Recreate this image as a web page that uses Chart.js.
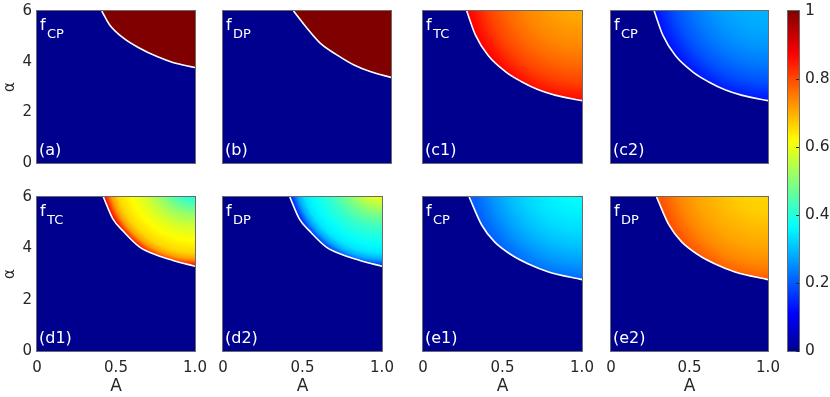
<!DOCTYPE html>
<html>
<head>
<meta charset="utf-8">
<title>f maps</title>
<script src="https://cdn.jsdelivr.net/npm/chart.js@4.4.0/dist/chart.umd.min.js"></script>
<style>
  body { margin: 0; background: #fff; }
  #wrap { position: relative; width: 830px; height: 397px; overflow: hidden; }
  #wrap canvas { position: absolute; }
</style>
</head>
<body>
<div id="wrap"></div>
<script>
// Tick labels
const xTicks = [0, 0.5, 1];
const xTickLabels = ["0", "0.5", "1.0"];
const yTicks = [0, 2, 4, 6];
const yTickLabels = ["0", "2", "4", "6"];
const cbTicks = [0, 0.2, 0.4, 0.6, 0.8, 1];
const cbTickLabels = ["0", "0.2", "0.4", "0.6", "0.8", "1"];

// Boundary curves (A, alpha)
const curveA_a = [0.41, 0.46, 0.55, 0.65, 0.76, 0.86, 1.0];
const curveAlpha_a = [6.0, 5.45, 4.92, 4.53, 4.2, 3.97, 3.77];
const curveA_b = [0.42, 0.5, 0.58, 0.68, 0.78, 0.88, 1.0];
const curveAlpha_b = [6.0, 5.32, 4.72, 4.26, 3.87, 3.6, 3.38];
const curveA_c = [0.275, 0.33, 0.41, 0.52, 0.62, 0.73, 0.83, 1.0];
const curveAlpha_c = [6.0, 5.05, 4.24, 3.6, 3.21, 2.88, 2.68, 2.46];
const curveA_d = [0.42, 0.48, 0.55, 0.65, 0.76, 0.86, 1.0];
const curveAlpha_d = [6.0, 5.15, 4.64, 4.05, 3.73, 3.53, 3.3];
const curveA_e = [0.29, 0.37, 0.45, 0.56, 0.66, 0.79, 1.0];
const curveAlpha_e = [6.0, 4.9, 4.25, 3.73, 3.4, 3.08, 2.78];

// Field values (0..1), from the top-right corner toward the boundary
const field_a = [1.0];
const field_b = [1.0];
const field_c1 = [0.7, 0.72, 0.74, 0.77, 0.81, 0.87];
const field_c2 = [0.29, 0.28, 0.26, 0.23, 0.19, 0.13];
const field_d1 = [0.4, 0.44, 0.48, 0.52, 0.55, 0.58, 0.6, 0.62, 0.64, 0.66, 0.72, 0.86];
const field_d2 = [0.6, 0.56, 0.52, 0.48, 0.45, 0.42, 0.4, 0.38, 0.36, 0.34, 0.28, 0.16];
const field_e1 = [0.37, 0.35, 0.33, 0.3, 0.26, 0.21];
const field_e2 = [0.66, 0.67, 0.69, 0.71, 0.74, 0.79];

const TEXT = "#262626";
const FONT = "'DejaVu Sans', sans-serif";

// MATLAB-like jet colormap
function jet(v) {
  const t = v * 0.984 + 0.0156;
  const c = (k) => Math.round(255 * Math.max(0, Math.min(1, 1.5 - Math.abs(4 * t - k))));
  return `rgb(${c(3)},${c(2)},${c(1)})`;
}

const panels = [
  { x: 37, y: 11, w: 158, h: 152, A: curveA_a, alpha: curveAlpha_a, field: field_a, sub: "CP", tag: "(a)", left: true, bottom: false },
  { x: 223, y: 11, w: 168, h: 152, A: curveA_b, alpha: curveAlpha_b, field: field_b, sub: "DP", tag: "(b)", left: false, bottom: false },
  { x: 423, y: 11, w: 159, h: 152, A: curveA_c, alpha: curveAlpha_c, field: field_c1, sub: "TC", tag: "(c1)", left: false, bottom: false },
  { x: 611, y: 11, w: 157, h: 152, A: curveA_c, alpha: curveAlpha_c, field: field_c2, sub: "CP", tag: "(c2)", left: false, bottom: false },
  { x: 37, y: 197, w: 158, h: 154, A: curveA_d, alpha: curveAlpha_d, field: field_d1, sub: "TC", tag: "(d1)", left: true, bottom: true },
  { x: 223, y: 197, w: 159, h: 154, A: curveA_d, alpha: curveAlpha_d, field: field_d2, sub: "DP", tag: "(d2)", left: false, bottom: true },
  { x: 423, y: 197, w: 159, h: 154, A: curveA_e, alpha: curveAlpha_e, field: field_e1, sub: "CP", tag: "(e1)", left: false, bottom: true },
  { x: 611, y: 197, w: 157, h: 154, A: curveA_e, alpha: curveAlpha_e, field: field_e2, sub: "DP", tag: "(e2)", left: false, bottom: true },
];

// Background, frame and in-panel labels
const panelDecor = {
  id: "panelDecor",
  beforeDraw(chart) {
    const { ctx, chartArea: a } = chart;
    ctx.save();
    ctx.fillStyle = jet(0);
    ctx.fillRect(a.left, a.top, a.width, a.height);
    ctx.restore();
  },
  afterDraw(chart, args, opts) {
    const { ctx, chartArea: a } = chart;
    ctx.save();
    ctx.strokeStyle = "#6b6b6b";
    ctx.lineWidth = 1;
    ctx.strokeRect(a.left - 0.5, a.top - 0.5, a.width + 1, a.height + 1);
    ctx.fillStyle = "#fff";
    ctx.textBaseline = "alphabetic";
    ctx.textAlign = "left";
    ctx.font = "16px " + FONT;
    ctx.fillText("f", a.left + 3, a.top + 19);
    ctx.font = "13px " + FONT;
    ctx.fillText(opts.sub, a.left + 10, a.top + 27);
    ctx.font = "16px " + FONT;
    ctx.fillText(opts.tag, a.left + 2, a.bottom - 8);
    ctx.restore();
  },
};

// Radial gradient that follows the boundary curve
function fieldFill(context, p) {
  const chart = context.chart;
  if (!chart.chartArea) return null;
  if (p.field.length === 1) return jet(p.field[0]);
  const xs = chart.scales.x;
  const ys = chart.scales.y;
  const off = 25;
  const cx = xs.getPixelForValue(1);
  const cy = ys.getPixelForValue(6) - off;
  let r = 0;
  p.A.forEach((a, i) => {
    r += Math.hypot(xs.getPixelForValue(a) - cx, ys.getPixelForValue(p.alpha[i]) - cy);
  });
  r /= p.A.length;
  const t0 = off / r;
  const g = chart.ctx.createRadialGradient(cx, cy, 0, cx, cy, r);
  g.addColorStop(0, jet(p.field[0]));
  p.field.forEach((v, i) => {
    g.addColorStop(t0 + ((1 - t0) * i) / (p.field.length - 1), jet(v));
  });
  return g;
}

function addCanvas(left, top, width, height) {
  const c = document.createElement("canvas");
  c.width = width;
  c.height = height;
  c.style.left = left + "px";
  c.style.top = top + "px";
  c.style.width = width + "px";
  c.style.height = height + "px";
  document.getElementById("wrap").appendChild(c);
  return c;
}

function drawPanel(p) {
  // room around the plot area; bigger than any label overhang so the
  // plot area lands exactly on (x, y, w, h)
  const padT = 20;
  const padR = 24;
  const padL = p.left ? 37 : 24;
  const padB = p.bottom ? 46 : 20;
  const canvas = addCanvas(p.x - padL, p.y - padT, p.w + padL + padR, p.h + padT + padB);

  new Chart(canvas.getContext("2d"), {
    type: "line",
    data: {
      datasets: [
        {
          data: p.A.map((a, i) => ({ x: a, y: p.alpha[i] })),
          borderColor: "#ffffff",
          borderWidth: 1.6,
          pointRadius: 0,
          cubicInterpolationMode: "monotone",
          fill: "end",
          backgroundColor: (ctx) => fieldFill(ctx, p),
        },
      ],
    },
    options: {
      responsive: false,
      animation: false,
      events: [],
      layout: { padding: { top: padT, right: padR, left: 0, bottom: 0 } },
      plugins: {
        legend: { display: false },
        tooltip: { enabled: false },
        panelDecor: { sub: p.sub, tag: p.tag },
      },
      scales: {
        x: {
          type: "linear",
          min: 0,
          max: 1,
          display: p.bottom,
          afterBuildTicks: (s) => { s.ticks = xTicks.map((v) => ({ value: v })); },
          afterFit: (s) => { s.height = padB; },
          ticks: {
            callback: (v, i) => xTickLabels[i],
            font: { family: FONT, size: 15 },
            color: TEXT,
            padding: 8,
            maxRotation: 0,
            autoSkip: false,
          },
          grid: { display: false, drawTicks: false },
          border: { display: false },
          title: { display: true, text: "A", font: { family: FONT, size: 17 }, color: TEXT, padding: 0 },
        },
        y: {
          type: "linear",
          min: 0,
          max: 6,
          display: p.left,
          afterBuildTicks: (s) => { s.ticks = yTicks.map((v) => ({ value: v })); },
          afterFit: (s) => { s.width = padL; },
          ticks: {
            callback: (v, i) => yTickLabels[i],
            font: { family: FONT, size: 15 },
            color: TEXT,
            padding: 5,
          },
          grid: { display: false, drawTicks: false },
          border: { display: false },
          title: { display: true, text: "α", font: { family: FONT, size: 15 }, color: TEXT, padding: { top: 1, bottom: 0 } },
        },
      },
    },
    plugins: [panelDecor],
  });
}

function drawColorbar() {
  const cb = { x: 788, y: 11, w: 11, h: 340 };
  const padT = 20, padB = 20, padL = 2, padR = 40;
  const canvas = addCanvas(cb.x - padL, cb.y - padT, cb.w + padL + padR, cb.h + padT + padB);

  const cbFrame = {
    id: "cbFrame",
    afterDraw(chart) {
      const { ctx, chartArea: a } = chart;
      const ys = chart.scales.y;
      ctx.save();
      ctx.strokeStyle = "#6b6b6b";
      ctx.lineWidth = 1;
      ctx.strokeRect(a.left - 0.5, a.top - 0.5, a.width + 1, a.height + 1);
      ctx.strokeStyle = "#262626";
      cbTicks.forEach((v) => {
        const y = Math.round(ys.getPixelForValue(v)) + 0.5;
        ctx.beginPath();
        ctx.moveTo(a.right - 3, y);
        ctx.lineTo(a.right, y);
        ctx.stroke();
      });
      ctx.restore();
    },
  };

  new Chart(canvas.getContext("2d"), {
    type: "bar",
    data: {
      labels: ["f"],
      datasets: [
        {
          data: [[cbTicks[0], cbTicks[cbTicks.length - 1]]],
          barPercentage: 1,
          categoryPercentage: 1,
          borderWidth: 0,
          backgroundColor: (ctx) => {
            const a = ctx.chart.chartArea;
            if (!a) return null;
            const g = ctx.chart.ctx.createLinearGradient(0, a.bottom, 0, a.top);
            for (let i = 0; i <= 64; i++) g.addColorStop(i / 64, jet(i / 64));
            return g;
          },
        },
      ],
    },
    options: {
      responsive: false,
      animation: false,
      events: [],
      layout: { padding: { top: padT, bottom: padB, left: padL, right: 0 } },
      plugins: { legend: { display: false }, tooltip: { enabled: false } },
      scales: {
        x: { display: false },
        y: {
          position: "right",
          min: 0,
          max: 1,
          afterBuildTicks: (s) => { s.ticks = cbTicks.map((v) => ({ value: v })); },
          afterFit: (s) => { s.width = padR; },
          ticks: {
            callback: (v, i) => cbTickLabels[i],
            font: { family: FONT, size: 15.5 },
            color: TEXT,
            padding: 6,
          },
          grid: { display: false, drawTicks: false },
          border: { display: false },
        },
      },
    },
    plugins: [cbFrame],
  });
}

panels.forEach(drawPanel);
drawColorbar();
</script>
</body>
</html>
